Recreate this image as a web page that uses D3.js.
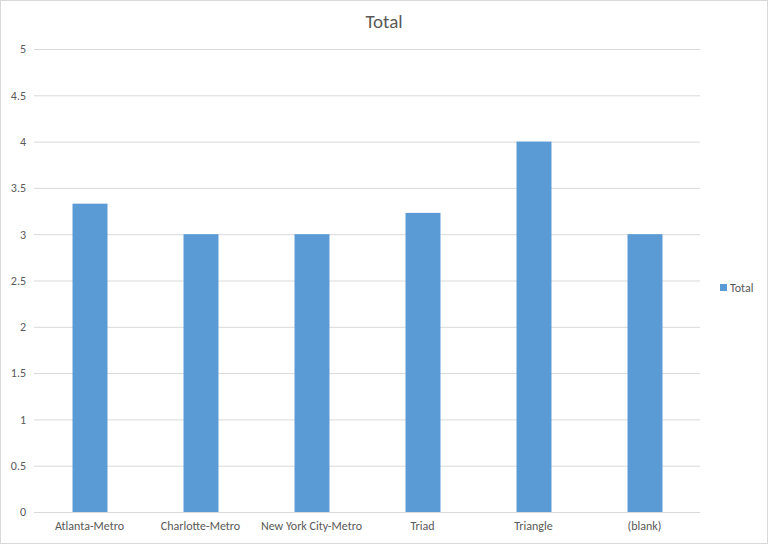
<!DOCTYPE html>
<html>
<head>
<meta charset="utf-8">
<script src="https://cdn.jsdelivr.net/npm/d3@7"></script>
<style>
  body { margin: 0; background: #fff; }
  svg text { font-family: Carlito, "Liberation Sans Narrow", "Liberation Sans", sans-serif; fill: #595959; }
</style>
</head>
<body>
<div id="chart"></div>
<script>
const categories = ["Atlanta-Metro", "Charlotte-Metro", "New York City-Metro", "Triad", "Triangle", "(blank)"];
const totals = [3.33, 3, 3, 3.23, 4, 3];
const yTicks = [0, 0.5, 1, 1.5, 2, 2.5, 3, 3.5, 4, 4.5, 5];
const seriesName = "Total";

const width = 768,
    height = 544,
    marginTop = 49,
    marginRight = 68,
    marginBottom = 32,
    marginLeft = 34,
    color = "#5b9bd5",
    gridColor = "#d9d9d9";

const svg = d3.select("#chart")
    .append("svg")
    .attr("width", width)
    .attr("height", height)
    .attr("viewBox", [0, 0, width, height]);

// chart border
svg.append("rect")
    .attr("x", 0.5).attr("y", 0.5)
    .attr("width", width - 1).attr("height", height - 1)
    .attr("fill", "#fff")
    .attr("stroke", "#d9d9d9");

const xScale = d3.scaleBand(categories, [marginLeft, width - marginRight]);
const yScale = d3.scaleLinear([0, 5], [height - marginBottom, marginTop]);
const barWidth = xScale.bandwidth() * 0.315;

// gridlines + y labels
const yAxis = d3.axisLeft(yScale).tickValues(yTicks).tickFormat(d3.format("")).tickSize(0).tickPadding(8);
svg.append("g")
    .attr("transform", `translate(${marginLeft},0)`)
    .call(yAxis)
    .call(g => g.select(".domain").remove())
    .call(g => g.selectAll(".tick text").attr("font-size", 12).attr("fill", "#595959"))
    .call(g => g.selectAll(".tick line").clone()
        .attr("x2", width - marginRight - marginLeft)
        .attr("stroke", gridColor));

// bars
svg.append("g")
    .attr("fill", color)
    .selectAll("rect")
    .data(totals)
    .join("rect")
    .attr("x", (d, i) => xScale(categories[i]) + (xScale.bandwidth() - barWidth) / 2 + 0.5)
    .attr("y", d => yScale(d))
    .attr("width", barWidth)
    .attr("height", d => yScale(0) - yScale(d));

// x labels
const xAxis = d3.axisBottom(xScale).tickSize(0).tickPadding(9);
svg.append("g")
    .attr("transform", `translate(0,${height - marginBottom})`)
    .call(xAxis)
    .call(g => g.select(".domain").remove())
    .call(g => g.selectAll(".tick text").attr("font-size", 12).attr("fill", "#595959"));

// title
svg.append("text")
    .attr("x", width / 2)
    .attr("y", 28)
    .attr("text-anchor", "middle")
    .attr("font-size", 19)
    .text(seriesName);

// legend
const legend = svg.append("g").attr("transform", "translate(720,284)");
legend.append("rect").attr("width", 7).attr("height", 7).attr("fill", color);
legend.append("text").attr("x", 10).attr("y", 8).attr("font-size", 12).text(seriesName);
</script>
</body>
</html>
